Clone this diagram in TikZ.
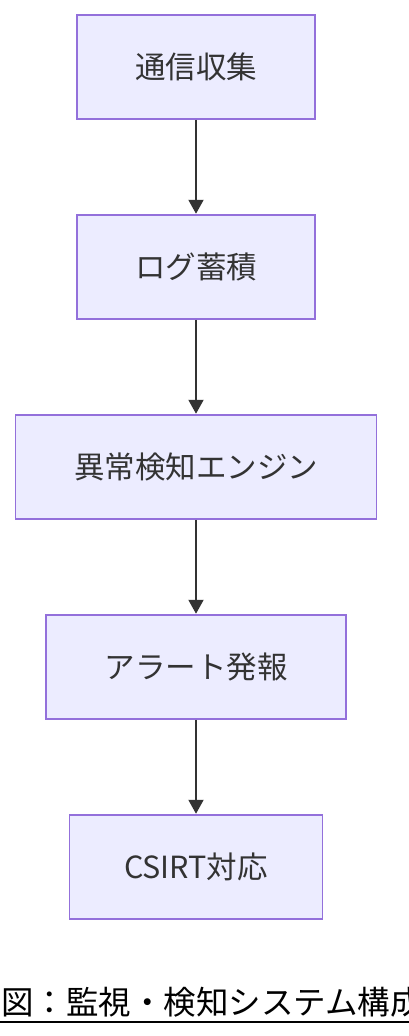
\documentclass[tikz,border=0pt]{standalone}
\usepackage{fontspec}
\setmainfont{Noto Sans CJK JP}
\usetikzlibrary{arrows.meta}
\definecolor{boxfill}{HTML}{ECECFF}
\definecolor{boxline}{HTML}{9370DB}
\definecolor{txt}{HTML}{333333}
\begin{document}
\begin{tikzpicture}[x=1pt,y=-1pt,
  box/.style={draw=boxline, fill=boxfill, line width=1.5pt, minimum height=104pt, inner sep=0pt, font=\fontsize{30.5}{36}\selectfont, text=txt},
  arr/.style={draw=txt, line width=2pt, -{Triangle[length=14pt,width=15pt]}, shorten >=0.5pt}]
\useasboundingbox (0,0) rectangle (408,1036);
\node[box, minimum width=238pt] (a) at (196,67) {通信収集};
\node[box, minimum width=238pt] (b) at (196,267) {ログ蓄積};
\node[box, minimum width=361pt] (c) at (196,467) {異常検知エンジン};
\node[box, minimum width=300pt] (d) at (196,667) {アラート発報};
\node[box, minimum width=253pt] (e) at (196,867) {CSIRT対応};
\draw[arr] (a) -- (b);
\draw[arr] (b) -- (c);
\draw[arr] (c) -- (d);
\draw[arr] (d) -- (e);
\node[anchor=base west, inner sep=0pt, font=\fontsize{32.5}{38}\selectfont] (cap) at (1,1014) {図：監視・検知システム構成};
\coordinate (ul) at (0,1021.5);
\draw[line width=2pt] (ul) -- ++(430,0);
\end{tikzpicture}
\end{document}
